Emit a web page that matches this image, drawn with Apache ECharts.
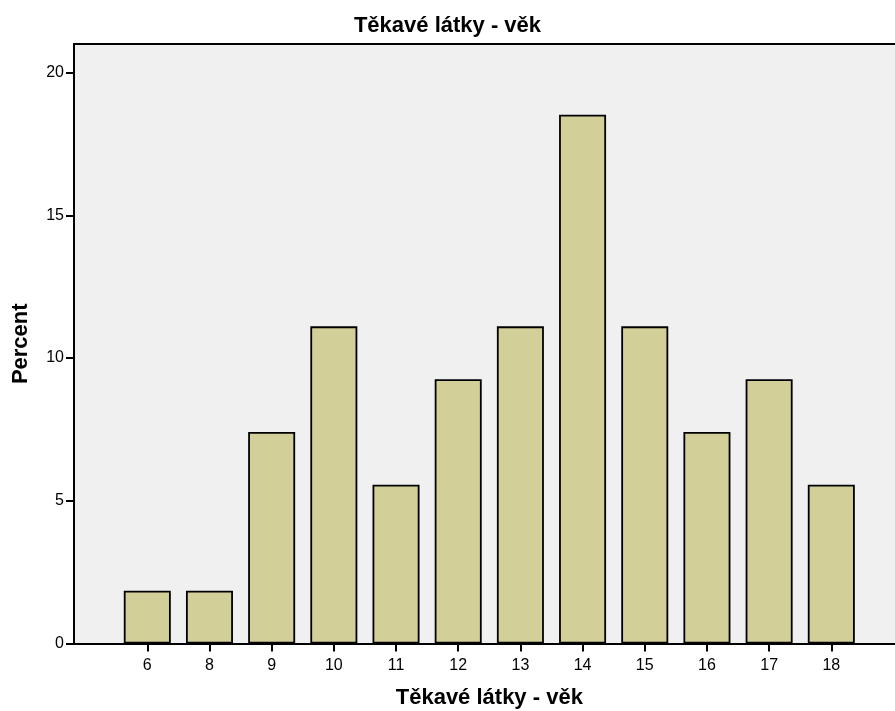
<!DOCTYPE html>
<html><head><meta charset="utf-8">
<script src="https://cdn.jsdelivr.net/npm/echarts@6/dist/echarts.min.js"></script>
<style>html,body{margin:0;padding:0;background:#fff}#c{width:895px;height:711px}</style>
</head><body><div id="c"></div>
<script>
const categories = ['6','8','9','10','11','12','13','14','15','16','17','18'];
const percentValues = [1.85, 1.85, 7.41, 11.11, 5.56, 9.26, 11.11, 18.52, 11.11, 7.41, 9.26, 5.56];
const yTicks = [0, 5, 10, 15, 20];
const titleText = 'Těkavé látky - věk';
const xTitle = 'Těkavé látky - věk';
const yTitle = 'Percent';

const FONT = '"Liberation Sans", Arial, sans-serif';
const chart = echarts.init(document.getElementById('c'));
const TOP = 44, BOTTOM = 67.5, YMAX = 21;
chart.setOption({
  animation: false,
  title: { text: titleText, left: 'center', top: 10, textStyle: { fontFamily: FONT, fontSize: 22, fontWeight: 'bold', color: '#000' } },
  grid: [
    { left: 74, right: 0, top: TOP, bottom: BOTTOM, show: true, backgroundColor: '#f0f0f0', borderWidth: 0, containLabel: false, outerBoundsMode: 'none' },
    { left: 116.2, right: 32.6, top: TOP, bottom: BOTTOM, containLabel: false, outerBoundsMode: 'none' }
  ],
  xAxis: [
    { gridIndex: 0, type: 'value', min: 0, max: 1, position: 'bottom', axisLine: { show: true, lineStyle: { color: '#000', width: 2 } }, axisTick: { show: false }, axisLabel: { show: false }, splitLine: { show: false } },
    { gridIndex: 0, type: 'value', min: 0, max: 1, position: 'top', axisLine: { show: true, lineStyle: { color: '#000', width: 2 } }, axisTick: { show: false }, axisLabel: { show: false }, splitLine: { show: false } },
    { gridIndex: 1, type: 'category', data: categories, boundaryGap: true,
      axisLine: { show: false },
      axisTick: { show: true, alignWithLabel: true, length: 8, lineStyle: { color: '#000', width: 2 } },
      axisLabel: { fontFamily: FONT, fontSize: 16, color: '#000', margin: 14 },
      name: xTitle, nameLocation: 'middle', nameGap: 43,
      nameTextStyle: { fontFamily: FONT, fontSize: 22, fontWeight: 'bold', color: '#000' } }
  ],
  yAxis: [
    { gridIndex: 0, type: 'value', min: 0, max: YMAX, interval: 5,
      axisLine: { show: true, lineStyle: { color: '#000', width: 2 } },
      axisTick: { show: true, length: 8, customValues: yTicks, lineStyle: { color: '#000', width: 2 } },
      axisLabel: { fontFamily: FONT, fontSize: 16, color: '#000', margin: 10, customValues: yTicks },
      splitLine: { show: false },
      name: yTitle, nameLocation: 'middle', nameGap: 42,
      nameTextStyle: { fontFamily: FONT, fontSize: 22, fontWeight: 'bold', color: '#000' } },
    { gridIndex: 1, type: 'value', min: 0, max: YMAX, show: false, splitLine: { show: false } }
  ],
  series: [{
    type: 'bar', xAxisIndex: 2, yAxisIndex: 1, data: percentValues, barWidth: 47,
    itemStyle: { color: '#d3cf98', borderColor: '#000', borderWidth: 1.8 }
  }]
});
</script></body></html>
